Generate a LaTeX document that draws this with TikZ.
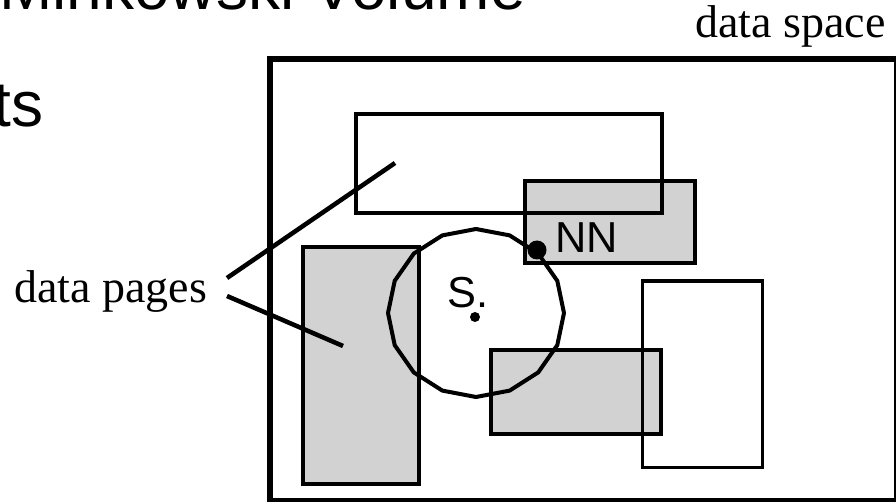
\documentclass[tikz,border=0pt]{standalone}
\usepackage{fontspec}
\newfontfamily\sansf{Liberation Sans}
\newfontfamily\seriff{Liberation Serif}
\begin{document}
\begin{tikzpicture}[x=0.75pt,y=-0.75pt,
  graypage/.style={draw=black,line width=2.8pt,fill=gray!35},
  whitepage/.style={draw=black,line width=2.8pt},
  spacebox/.style={draw=black,line width=4pt},
  leader/.style={draw=black,line width=3.4pt},
  query/.style={draw=black,line width=3pt,line join=round},
  serlabel/.style={inner sep=0pt,font=\seriff\fontsize{34.5}{40}\selectfont},
  sanlabel/.style={inner sep=0pt,font=\sansf\fontsize{32.5}{36}\selectfont},
  titlelabel/.style={inner sep=0pt,font=\sansf\fontsize{48}{56}\selectfont}]
\useasboundingbox (0,0) rectangle (896,502);
\clip (0,0) rectangle (896,502);
% slide texts (partly cut off)
\node[titlelabel,anchor=base west] (title) at (-1,10) {Minkowski Volume};
\node[titlelabel,anchor=base east] (ts) at (44,127) {ts};
% data space
\draw[spacebox] (270,59) rectangle (897,501);
\node[serlabel,anchor=base east] (dspace) at (886,38) {data space};
% data pages
\draw[graypage] (303,247) rectangle (419,484);
\draw[graypage] (525,181) rectangle (695,263);
\draw[graypage] (491,350) rectangle (661,434);
\draw[whitepage] (356,114) rectangle (662,213);
\draw[whitepage] (642.5,281) rectangle (762.5,467.5);
% query sphere
\draw[query] plot[samples=17,domain=0:360,variable=\t] ({476+88*cos(\t)},{313+84*sin(\t)}) -- cycle;
\fill (475,317) circle[radius=5];
\fill (537,250) circle[radius=9.5];
\node[sanlabel,anchor=base west] (nn) at (555,253) {NN};
\node[sanlabel,anchor=base west] (s) at (447,307) {S.};
% labels
\node[serlabel,anchor=base west] (dpages) at (14,302) {data pages};
\coordinate (l1s) at (227,278);
\coordinate (l1e) at (395,163);
\coordinate (l2s) at (227,296);
\coordinate (l2e) at (343,346);
\draw[leader] (l1s) -- (l1e);
\draw[leader] (l2s) -- (l2e);
\end{tikzpicture}
\end{document}
